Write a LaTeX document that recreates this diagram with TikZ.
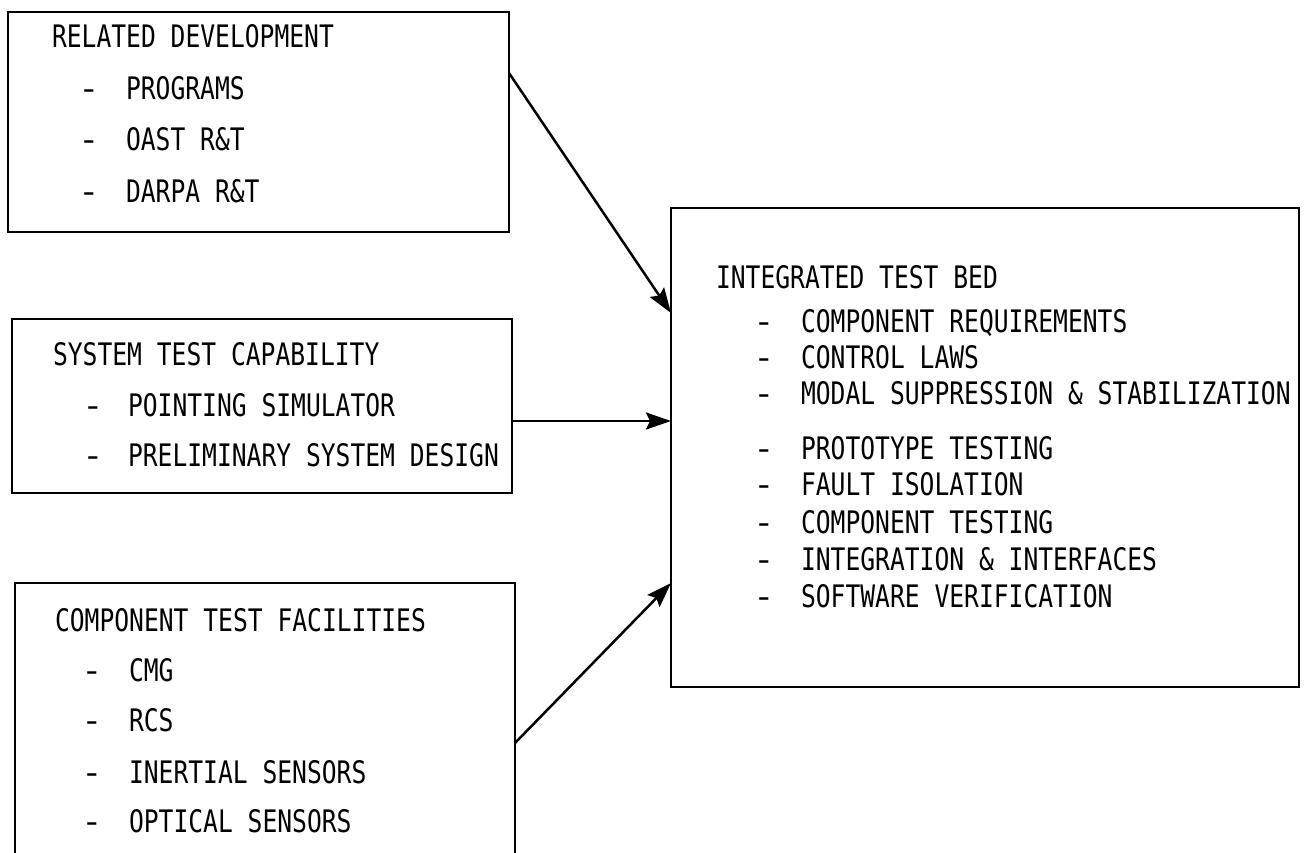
\documentclass[tikz,border=0pt]{standalone}
\usepackage{fontspec}
\usepackage{graphicx}
\newfontfamily\twfont{DejaVu Sans Mono}[FakeStretch=0.795]
\usetikzlibrary{arrows.meta}
\newcommand{\wdash}{\scalebox{1.45}[1]{-}}
\begin{document}
\begin{tikzpicture}[x=1pt,y=-1pt,
  boxnode/.style={draw, line width=2.8pt, rectangle, inner sep=0pt, outer sep=0pt},
  txt/.style={anchor=base west, inner sep=0pt, outer sep=0pt, font=\twfont\fontsize{31pt}{37pt}\selectfont},
  dsh/.style={txt},
  arr/.style={line width=2.5pt, -{Stealth[length=25pt,width=17pt,inset=4pt]}}]
\useasboundingbox[fill=white] (0,0) rectangle (1304,852);
% boxes
\node[boxnode, minimum width=501pt, minimum height=220pt] (b1) at (258.5,122) {};
\node[boxnode, minimum width=500pt, minimum height=174pt] (b2) at (262,406) {};
\node[boxnode, minimum width=500pt, minimum height=317pt] (b3) at (265,741.5) {};
\node[boxnode, minimum width=628pt, minimum height=479pt] (b4) at (985,447.5) {};
% box 1 text
\node[txt] (h1) at (52,47) {RELATED DEVELOPMENT};
\node[dsh] (d11) at (78,99) {\wdash};
\node[txt] (t11) at (126,99) {PROGRAMS};
\node[dsh] (d12) at (78,150) {\wdash};
\node[txt] (t12) at (126,150) {OAST R\&T};
\node[dsh] (d13) at (78,202) {\wdash};
\node[txt] (t13) at (126,202) {DARPA R\&T};
% box 2 text
\node[txt] (h2) at (53,365) {SYSTEM TEST CAPABILITY};
\node[dsh] (d21) at (82,416) {\wdash};
\node[txt] (t21) at (128,416) {POINTING SIMULATOR};
\node[dsh] (d22) at (82,466) {\wdash};
\node[txt] (t22) at (128,466) {PRELIMINARY SYSTEM DESIGN};
% box 3 text
\node[txt] (h3) at (55,631) {COMPONENT TEST FACILITIES};
\node[dsh] (d31) at (81,681) {\wdash};
\node[txt] (t31) at (129,681) {CMG};
\node[dsh] (d32) at (81,731) {\wdash};
\node[txt] (t32) at (129,731) {RCS};
\node[dsh] (d33) at (81,783) {\wdash};
\node[txt] (t33) at (129,783) {INERTIAL SENSORS};
\node[dsh] (d34) at (81,832) {\wdash};
\node[txt] (t34) at (129,832) {OPTICAL SENSORS};
% box 4 text
\node[txt] (h4) at (716,288) {INTEGRATED TEST BED};
\node[dsh] (d41) at (753,332) {\wdash};
\node[txt] (t41) at (801,332) {COMPONENT REQUIREMENTS};
\node[dsh] (d42) at (753,368) {\wdash};
\node[txt] (t42) at (801,368) {CONTROL LAWS};
\node[dsh] (d43) at (753,404) {\wdash};
\node[txt] (t43) at (801,404) {MODAL SUPPRESSION \& STABILIZATION};
\node[dsh] (d44) at (753,459) {\wdash};
\node[txt] (t44) at (801,459) {PROTOTYPE TESTING};
\node[dsh] (d45) at (753,495) {\wdash};
\node[txt] (t45) at (801,495) {FAULT ISOLATION};
\node[dsh] (d46) at (753,533) {\wdash};
\node[txt] (t46) at (801,533) {COMPONENT TESTING};
\node[dsh] (d47) at (753,570) {\wdash};
\node[txt] (t47) at (801,570) {INTEGRATION \& INTERFACES};
\node[dsh] (d48) at (753,607) {\wdash};
\node[txt] (t48) at (801,607) {SOFTWARE VERIFICATION};
% arrows
\draw[arr] ([yshift=-61pt]b1.north east) -- ([yshift=-105pt]b4.north west);
\draw[arr] ([yshift=-102pt]b2.north east) -- ([yshift=-213pt]b4.north west);
\draw[arr] ([yshift=-160pt]b3.north east) -- ([yshift=-375pt]b4.north west);
\end{tikzpicture}
\end{document}
